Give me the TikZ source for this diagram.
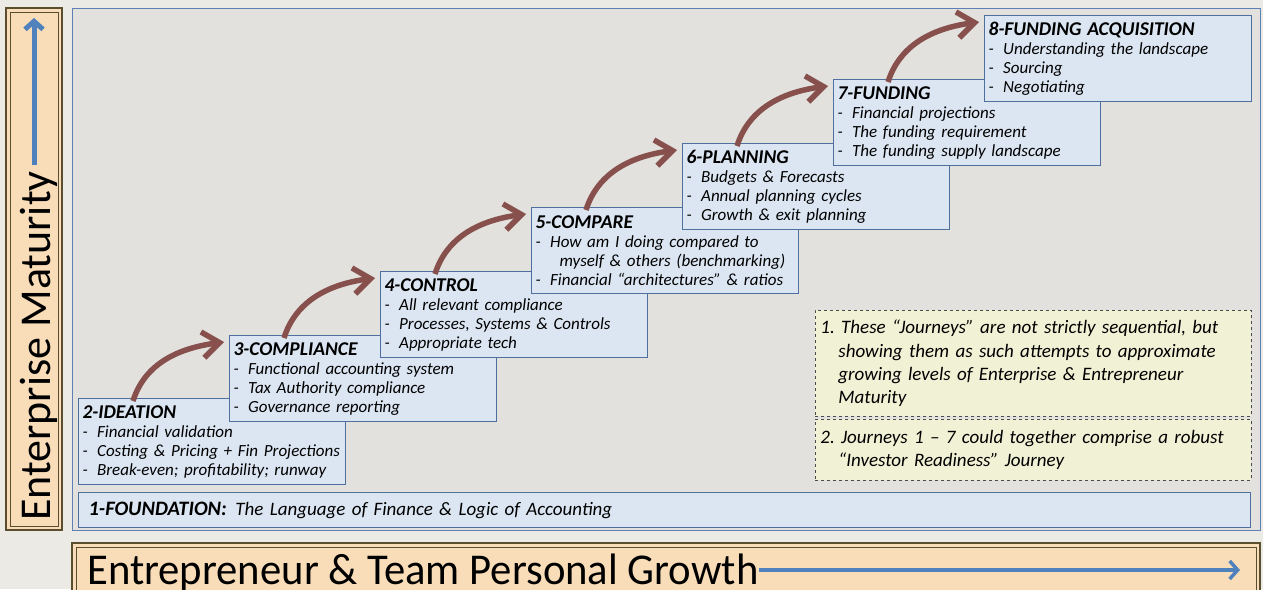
\documentclass[tikz,border=0pt]{standalone}
\usepackage{fontspec}
\setmainfont{Carlito}
\usetikzlibrary{arrows.meta,calc}
\definecolor{bgout}{HTML}{ECEAE5}
\definecolor{panel}{HTML}{E2E1DE}
\definecolor{panelline}{HTML}{5E80B4}
\definecolor{boxfill}{HTML}{DCE6F2}
\definecolor{boxline}{HTML}{4F6F9F}
\definecolor{peach}{HTML}{F8DDB8}
\definecolor{peachline}{HTML}{5A4E2E}
\definecolor{brownarrow}{HTML}{87504C}
\definecolor{bluearrow}{HTML}{4F81BD}
\definecolor{notefill}{HTML}{F1F1D6}
\newcommand{\hdr}[1]{{\bfseries\fontsize{19.5}{19}\selectfont #1}}
\newcommand{\itm}[1]{-\hspace{0.55em}#1}
\begin{document}
\begin{tikzpicture}[x=1pt,y=-1pt,
  stagebox/.style={draw=boxline, line width=1.2pt, fill=boxfill, anchor=north west,
    minimum width=267pt, minimum height=86pt, text width=259pt, inner xsep=4pt, inner ysep=2pt,
    align=left, font=\itshape\fontsize{17}{19}\selectfont},
  notebox/.style={draw=black!70, dashed, line width=0.8pt, fill=notefill, anchor=north west,
    minimum width=436pt, text width=426pt, inner xsep=5pt, align=left,
    font=\itshape\fontsize{19}{23.3}\selectfont},
  flow/.style={draw=brownarrow, line width=5.5pt, -{Straight Barb[length=17pt,width=26pt]}},
  growth/.style={draw=bluearrow, line width=5pt, -{Straight Barb[length=8pt,width=18pt]}},
  peachbox/.style={draw=peachline, line width=2pt, fill=peach},
  peachinner/.style={draw=peachline, line width=0.8pt}
]
\useasboundingbox (0,0) rectangle (1263,589);
\clip (0,0) rectangle (1263,589);
\fill[bgout] (0,0) rectangle (1263,589);

% main panel
\path[draw=panelline, line width=1pt, fill=panel] (72,8) rectangle (1260,530);

% left axis box
\path[peachbox] (6,8) rectangle (62,530);
\path[peachinner] (10,12) rectangle (58,526);
\node[rotate=90, font=\fontsize{44}{44}\selectfont, anchor=base west, inner sep=0pt] (ym) at (50,521) {Enterprise Maturity};
\coordinate (ybot) at (34,165);
\coordinate (ytop) at (34,18);
\draw[growth] (ybot) -- (ytop);

% bottom axis box
\path[peachbox] (72,543) rectangle (1260,600);
\path[peachinner] (76,547) rectangle (1256,600);
\node[font=\fontsize{44}{44}\selectfont, anchor=base west, inner sep=0pt, xscale=0.97] (xm) at (87,584) {Entrepreneur \& Team Personal Growth};
\coordinate (xright) at (1240,570);
\draw[growth, line width=3.5pt] ($(xm.base east)+(0,-14)$) -- (xright);

% foundation
\node[draw=boxline, line width=1.2pt, fill=boxfill, anchor=north west, minimum width=1172pt, minimum height=35pt,
  text width=1152pt, inner xsep=10pt, align=left, font=\itshape\fontsize{19}{19}\selectfont] (b1) at (78,492)
  {{\bfseries\fontsize{20.5}{19}\selectfont 1-FOUNDATION:}\hspace{0.45em}The Language of Finance \& Logic of Accounting};

% stage boxes
\node[stagebox] (b2) at (78,398) {\hdr{2-IDEATION}\\ \itm{Financial validation}\\ \itm{Costing \& Pricing + Fin Projections}\\ \itm{Break-even; profitability; runway}};
\node[stagebox] (b3) at (229,335) {\hdr{3-COMPLIANCE}\\ \itm{Functional accounting system}\\ \itm{Tax Authority compliance}\\ \itm{Governance reporting}};
\node[stagebox] (b4) at (380,271) {\hdr{4-CONTROL}\\ \itm{All relevant compliance}\\ \itm{Processes, Systems \& Controls}\\ \itm{Appropriate tech}};
\node[stagebox] (b5) at (531,207) {\hdr{5-COMPARE}\\ \itm{How am I doing compared to}\\ \hspace*{0.55em}\phantom{-}\hspace{0.55em}myself \& others (benchmarking)\\ \itm{Financial “architectures” \& ratios}};
\node[stagebox] (b6) at (682,143) {\hdr{6-PLANNING}\\ \itm{Budgets \& Forecasts}\\ \itm{Annual planning cycles}\\ \itm{Growth \& exit planning}};
\node[stagebox] (b7) at (833,79) {\hdr{7-FUNDING}\\ \itm{Financial projections}\\ \itm{The funding requirement}\\ \itm{The funding supply landscape}};
\node[stagebox] (b8) at (984,15) {\hdr{8-FUNDING ACQUISITION}\\ \itm{Understanding the landscape}\\ \itm{Sourcing}\\ \itm{Negotiating}};

% arrows
\foreach \a/\b in {b2/b3,b3/b4,b4/b5,b5/b6,b6/b7,b7/b8}{
  \draw[flow] ([xshift=55pt, yshift=-3pt]\a.north west) .. controls +(12,-38) and +(-45,6) .. ([xshift=-5pt, yshift=-7pt]\b.north west);
}

% notes
\node[notebox, minimum height=106pt] (n1) at (815,310) {1.~These “Journeys” are not strictly sequential, but\\ \hspace*{18pt}showing them as such attempts to approximate\\ \hspace*{18pt}growing levels of Enterprise \& Entrepreneur\\ \hspace*{18pt}Maturity};
\node[notebox, minimum height=61pt] (n2) at (815,419) {2.~Journeys 1 -- 7 could together comprise a robust\\ \hspace*{18pt}“Investor Readiness” Journey};
\end{tikzpicture}
\end{document}
